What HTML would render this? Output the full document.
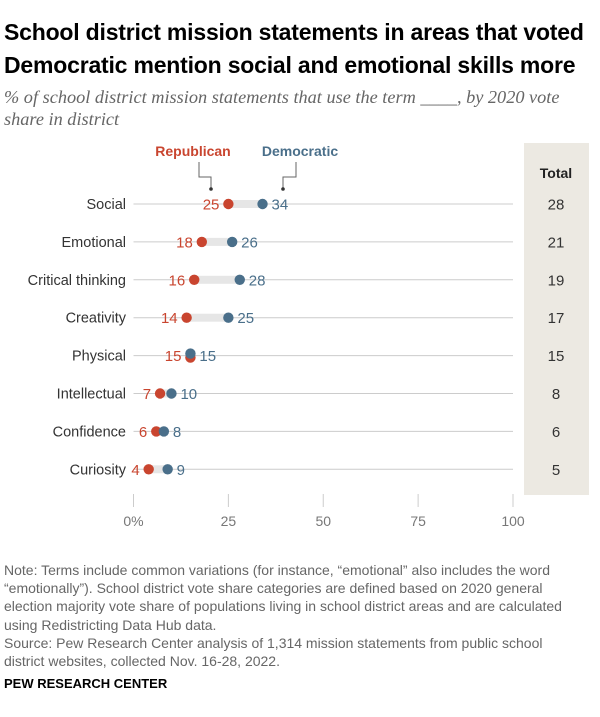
<!DOCTYPE html>
<html><head><meta charset="utf-8">
<style>
body{margin:0;background:#fff;font-family:"Liberation Sans",sans-serif;}
#wrap{position:relative;width:600px;height:717px;overflow:hidden;}
h1{position:absolute;left:4px;top:16px;margin:0;font-size:23px;line-height:33px;font-weight:bold;color:#000;letter-spacing:-0.2px;white-space:nowrap;}
.sub{position:absolute;left:4px;top:86px;font-family:"Liberation Serif",serif;font-style:italic;font-size:18.3px;line-height:22px;color:#666;width:596px;white-space:nowrap;}
.note{position:absolute;left:4px;top:561px;font-size:14px;line-height:18.2px;color:#666;width:596px;white-space:nowrap;}
.brand{position:absolute;left:4px;top:676px;font-size:13px;font-weight:bold;color:#000;}
</style></head><body>
<div id="wrap">
<h1>School district mission statements in areas that voted<br>Democratic mention social and emotional skills more</h1>
<div class="sub">% of school district mission statements that use the term ____, by 2020 vote<br>share in district</div>
<svg id="chart" width="600" height="717" style="position:absolute;left:0;top:0"></svg>
<div class="note">Note: Terms include common variations (for instance, “emotional” also includes the word<br>“emotionally”). School district vote share categories are defined based on 2020 general<br>election majority vote share of populations living in school district areas and are calculated<br>using Redistricting Data Hub data.<br>Source: Pew Research Center analysis of 1,314 mission statements from public school<br>district websites, collected Nov. 16-28, 2022.</div>
<div class="brand">PEW RESEARCH CENTER</div>
</div>
<script>
const categories=["Social","Emotional","Critical thinking","Creativity","Physical","Intellectual","Confidence","Curiosity"];
const republican=[25,18,16,14,15,7,6,4];
const democratic=[34,26,28,25,15,10,8,9];
const totals=[28,21,19,17,15,8,6,5];
const ticks=[0,25,50,75,100];
const tickLabels=["0%","25","50","75","100"];
const RED="#c9452f",BLUE="#4a6f8a";
const svg=document.getElementById('chart');
const NS="http://www.w3.org/2000/svg";
function x(v){return 133.5+v*3.795;}
function y(i){return 204+i*37.9;}
function mk(t,a,txt){const e=document.createElementNS(NS,t);for(const k in a)e.setAttribute(k,a[k]);if(txt!==undefined)e.textContent=txt;svg.appendChild(e);return e;}
let e;
e=mk('rect',{x:524,y:143,width:65,height:352,fill:"#ece9e2"});


e=mk('text',{x:556,y:178,'text-anchor':'middle','font-size':14,'font-weight':'bold',fill:'#222'},"Total");


ticks.forEach((t,i)=>{
 e=mk('line',{x1:x(t),x2:x(t),y1:494,y2:507,stroke:'#ccc','stroke-width':1});
 
 
 e=mk('text',{x:x(t),y:526,'text-anchor':'middle','font-size':14,fill:'#777'},tickLabels[i]);
 
 
});
categories.forEach((c,i)=>{
 const yy=y(i),r=republican[i],d=democratic[i];
 e=mk('line',{x1:x(0),x2:x(100),y1:yy,y2:yy,stroke:'#ccc','stroke-width':1});
 
 
 e=mk('text',{x:126,y:yy+5,'text-anchor':'end','font-size':14.5,fill:'#333'},c);
 
 
 const lo=Math.min(r,d),hi=Math.max(r,d);
 e=mk('rect',{x:x(lo),y:yy-4,width:x(hi)-x(lo),height:8,fill:'#e6e6e6'});
 
 
 e=mk('circle',{cx:x(r),cy:yy+(r===d?2:0),r:5.2,fill:RED});
 
 
 e=mk('circle',{cx:x(d),cy:yy-(r===d?2:0),r:5.2,fill:BLUE});
 
 
 e=mk('text',{x:x(r)-9,y:yy+5.5,'text-anchor':'end','font-size':15,fill:RED},r);
 
 
 e=mk('text',{x:x(d)+9,y:yy+5.5,'font-size':15,fill:BLUE},d);
 
 
 e=mk('text',{x:556,y:yy+5.5,'text-anchor':'middle','font-size':15,fill:'#333'},totals[i]);
 
 
});
e=mk('text',{x:193,y:156,'text-anchor':'middle','font-size':14,'font-weight':'bold',fill:RED},"Republican");


e=mk('text',{x:300,y:156,'text-anchor':'middle','font-size':14,'font-weight':'bold',fill:BLUE},"Democratic");


e=mk('polyline',{points:"199,162 199,177 211,177 211,188",fill:'none',stroke:'#666','stroke-width':1});


e=mk('circle',{cx:211,cy:189,r:1.8,fill:'#333'});


e=mk('polyline',{points:"296,162 296,177 283,177 283,188",fill:'none',stroke:'#666','stroke-width':1});


e=mk('circle',{cx:283,cy:189,r:1.8,fill:'#333'});


</script>
</body></html>
